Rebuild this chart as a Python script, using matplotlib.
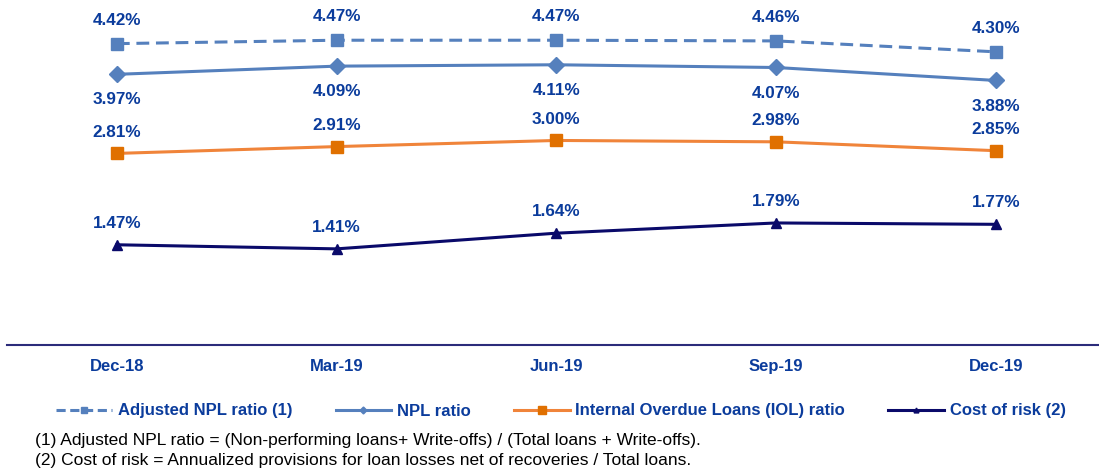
import matplotlib
matplotlib.use("Agg")
import matplotlib.pyplot as plt
from matplotlib.lines import Line2D

categories = ["Dec-18", "Mar-19", "Jun-19", "Sep-19", "Dec-19"]
adj_npl = [4.42, 4.47, 4.47, 4.46, 4.30]
npl = [3.97, 4.09, 4.11, 4.07, 3.88]
iol = [2.81, 2.91, 3.00, 2.98, 2.85]
cor = [1.47, 1.41, 1.64, 1.79, 1.77]
legend_labels = ["Adjusted NPL ratio (1)", "NPL ratio",
                 "Internal Overdue Loans (IOL) ratio", "Cost of risk (2)"]
footnotes = ["(1) Adjusted NPL ratio = (Non-performing loans+ Write-offs) / (Total loans + Write-offs).",
             "(2) Cost of risk = Annualized provisions for loan losses net of recoveries / Total loans."]

plt.rcParams['font.family'] = ['Liberation Sans', 'DejaVu Sans']
TXT = '#0B3C9C'
BLUE = '#5580BD'
ORANGE_L = '#F0843A'
ORANGE_M = '#E07000'
NAVY = '#0A0A6A'

W, H = 1099, 471
fig = plt.figure(figsize=(W / 100, H / 100), dpi=100)
ax = fig.add_axes([7 / W, 1 - 345 / H, 1092 / W, 345 / H])
x = list(range(len(categories)))

ax.plot(x, adj_npl, color=BLUE, lw=2.2, ls=(0, (4.2, 2.2)), marker='s', ms=9, mfc=BLUE, mec=BLUE)
ax.plot(x, npl, color=BLUE, lw=2.2, marker='D', ms=8, mfc=BLUE, mec=BLUE)
ax.plot(x, iol, color=ORANGE_L, lw=2.2, marker='s', ms=9, mfc=ORANGE_M, mec=ORANGE_M)
ax.plot(x, cor, color=NAVY, lw=2.2, marker='^', ms=6.5, mfc=NAVY, mec=NAVY)

kw = dict(color=TXT, fontsize=12.3, fontweight='bold', ha='center')
for i in x:
    ax.annotate(f"{adj_npl[i]:.2f}%", (i, adj_npl[i]), xytext=(0, 11.5), textcoords='offset points', va='bottom', **kw)
    ax.annotate(f"{npl[i]:.2f}%", (i, npl[i]), xytext=(0, -13), textcoords='offset points', va='top', **kw)
    ax.annotate(f"{iol[i]:.2f}%", (i, iol[i]), xytext=(0, 10), textcoords='offset points', va='bottom', **kw)
    ax.annotate(f"{cor[i]:.2f}%", (i, cor[i]), xytext=(0, 10), textcoords='offset points', va='bottom', **kw)

ax.set_xlim(-0.5, 4.47)
ax.set_ylim(0, 5.06)
for s in ['top', 'right', 'left']:
    ax.spines[s].set_visible(False)
ax.spines['bottom'].set_color('#2B2B7A')
ax.spines['bottom'].set_linewidth(1.5)
ax.set_yticks([])
ax.set_xticks(x)
ax.set_xticklabels(categories, color=TXT, fontsize=12, fontweight='bold')
ax.tick_params(axis='x', length=0, pad=10)

handles = [
    Line2D([], [], color=BLUE, lw=2.2, ls=(0, (3, 1.5)), marker='s', ms=5, mfc=BLUE, mec=BLUE),
    Line2D([], [], color=BLUE, lw=2.2, marker='D', ms=3.5, mfc=BLUE, mec=BLUE),
    Line2D([], [], color=ORANGE_L, lw=2.2, marker='s', ms=6, mfc=ORANGE_M, mec=ORANGE_M),
    Line2D([], [], color=NAVY, lw=2.2, marker='^', ms=3.5, mfc=NAVY, mec=NAVY),
]
leg = fig.legend(handles, legend_labels, loc='center', bbox_to_anchor=(561 / W, 1 - 411 / H),
                 ncol=4, frameon=False, handlelength=3.35, handletextpad=0.33, columnspacing=2.6,
                 borderpad=0, borderaxespad=0, prop={'size': 12, 'weight': 'bold'})
for t in leg.get_texts():
    t.set_color(TXT)

fig.text(35 / W, 1 - 440 / H, footnotes[0], fontsize=12.5, color='#000000', va='center', ha='left')
fig.text(35 / W, 1 - 461 / H, footnotes[1], fontsize=12.5, color='#000000', va='center', ha='left')

fig.savefig("out.png", dpi=100)
